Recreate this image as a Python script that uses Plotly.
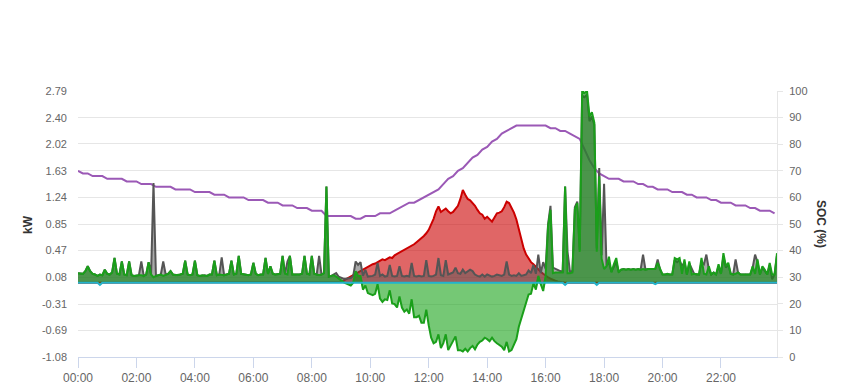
import plotly.graph_objects as go
import pandas as pd
import numpy as np

# ---------------- data ----------------
# 5-minute samples, 00:00 .. 23:55 (one row = one hour)
time_5min = pd.date_range("2024-01-01 00:00", periods=288, freq="5min")
# 10-minute samples for SOC
time_10min = pd.date_range("2024-01-01 00:00", periods=144, freq="10min")

solar_kw = [
    0, 0, 0, 0, 0, 0, 0, 0, 0, 0, 0, 0,
    0, 0, 0, 0, 0, 0, 0, 0, 0, 0, 0, 0,
    0, 0, 0, 0, 0, 0, 0, 0, 0, 0, 0, 0,
    0, 0, 0, 0, 0, 0, 0, 0, 0, 0, 0, 0,
    0, 0, 0, 0, 0, 0, 0, 0, 0, 0, 0, 0,
    0, 0, 0, 0, 0, 0, 0, 0, 0, 0, 0, 0,
    0, 0, 0, 0, 0, 0, 0, 0, 0, 0, 0, 0,
    0, 0, 0, 0, 0, 0, 0, 0, 0, 0, 0, 0,
    0, 0, 0, 0, 0, 0, 0, 0, 0, 0, 0, 0,
    0.01, 0.03, 0.05, 0.07, 0.09, 0.11, 0.13, 0.16, 0.18, 0.20, 0.22, 0.24,
    0.25, 0.27, 0.28, 0.30, 0.32, 0.34, 0.33, 0.35, 0.37, 0.36, 0.40, 0.42,
    0.44, 0.46, 0.48, 0.49, 0.51, 0.53, 0.56, 0.59, 0.62, 0.64, 0.68, 0.72,
    0.77, 0.85, 0.93, 1.04, 1.11, 1.03, 1.05, 1.08, 1.04, 1.01, 1.03, 1.07,
    1.12, 1.22, 1.35, 1.28, 1.22, 1.20, 1.16, 1.12, 1.06, 1.01, 0.99, 0.93,
    0.96, 0.92, 0.89, 0.95, 1.01, 1.02, 1.04, 1.10, 1.18, 1.16, 1.10, 1.02,
    0.92, 0.78, 0.62, 0.50, 0.41, 0.35, 0.30, 0.27, 0.23, 0.19, 0.16, 0.13,
    0.10, 0.08, 0.06, 0.04, 0.03, 0.02, 0.01, 0, 0, 0, 0, 0,
    0, 0, 0, 0, 0, 0, 0, 0, 0, 0, 0, 0,
    0, 0, 0, 0, 0, 0, 0, 0, 0, 0, 0, 0,
    0, 0, 0, 0, 0, 0, 0, 0, 0, 0, 0, 0,
    0, 0, 0, 0, 0, 0, 0, 0, 0, 0, 0, 0,
    0, 0, 0, 0, 0, 0, 0, 0, 0, 0, 0, 0,
    0, 0, 0, 0, 0, 0, 0, 0, 0, 0, 0, 0,
    0, 0, 0, 0, 0, 0, 0, 0, 0, 0, 0, 0,
]

load_kw = [
    0.14, 0.14, 0.13, 0.17, 0.24, 0.17, 0.13, 0.12, 0.10, 0.12, 0.11, 0.19,
    0.13, 0.12, 0.15, 0.36, 0.13, 0.12, 0.31, 0.12, 0.11, 0.31, 0.11, 0.10,
    0.11, 0.11, 0.31, 0.10, 0.12, 0.30, 0.12, 1.45, 0.10, 0.11, 0.12, 0.31,
    0.12, 0.13, 0.17, 0.12, 0.11, 0.11, 0.12, 0.13, 0.32, 0.12, 0.11, 0.12,
    0.32, 0.11, 0.10, 0.11, 0.11, 0.10, 0.12, 0.12, 0.32, 0.11, 0.12, 0.37,
    0.11, 0.12, 0.13, 0.32, 0.12, 0.13, 0.39, 0.13, 0.12, 0.11, 0.11, 0.12,
    0.29, 0.13, 0.11, 0.12, 0.12, 0.36, 0.13, 0.24, 0.13, 0.12, 0.12, 0.13,
    0.39, 0.13, 0.31, 0.39, 0.12, 0.12, 0.11, 0.12, 0.13, 0.39, 0.13, 0.12,
    0.39, 0.13, 0.12, 0.39, 0.12, 0.14, 1.40, 0.09, 0.10, 0.12, 0.14, 0.09,
    0.07, 0.06, 0.06, 0.06, 0.07, 0.10, 0.31, 0.26, 0.30, 0.10, 0.19, 0.09,
    0.09, 0.10, 0.12, 0.29, 0.10, 0.12, 0.09, 0.10, 0.26, 0.10, 0.09, 0.10,
    0.24, 0.10, 0.09, 0.10, 0.09, 0.29, 0.10, 0.09, 0.10, 0.09, 0.10, 0.33,
    0.10, 0.09, 0.10, 0.12, 0.36, 0.11, 0.10, 0.33, 0.12, 0.14, 0.15, 0.22,
    0.14, 0.13, 0.19, 0.14, 0.17, 0.19, 0.17, 0.12, 0.10, 0.09, 0.12, 0.09,
    0.12, 0.10, 0.09, 0.10, 0.12, 0.11, 0.10, 0.12, 0.31, 0.12, 0.10, 0.11,
    0.10, 0.14, 0.10, 0.11, 0.12, 0.18, 0.14, 0.26, 0.13, 0.41, 0.14, 0.30,
    0.20, 0.85, 1.12, 0.22, 0.20, 0.18, 0.17, 0.16, 1.40, 0.45, 0.16, 0.17,
    1.10, 1.18, 0.48, 2.72, 2.70, 2.74, 2.35, 2.42, 2.30, 0.50, 1.67, 0.40,
    1.44, 0.25, 0.30, 0.16, 0.22, 0.30, 0.16, 0.19, 0.20, 0.19, 0.20, 0.19,
    0.20, 0.19, 0.20, 0.19, 0.41, 0.19, 0.20, 0.20, 0.19, 0.20, 0.34, 0.19,
    0.12, 0.12, 0.13, 0.12, 0.12, 0.33, 0.30, 0.33, 0.24, 0.30, 0.12, 0.28,
    0.19, 0.13, 0.12, 0.12, 0.30, 0.27, 0.41, 0.20, 0.12, 0.15, 0.12, 0.24,
    0.13, 0.38, 0.22, 0.26, 0.13, 0.12, 0.34, 0.15, 0.12, 0.12, 0.13, 0.12,
    0.12, 0.22, 0.41, 0.30, 0.12, 0.22, 0.17, 0.12, 0.26, 0.05, 0.12, 0.40,
]

battery_kw = [
    0.14, 0.14, 0.13, 0.17, 0.24, 0.17, 0.13, 0.12, 0.10, 0.12, 0.11, 0.19,
    0.13, 0.12, 0.15, 0.36, 0.13, 0.12, 0.31, 0.12, 0.11, 0.31, 0.11, 0.10,
    0.11, 0.11, 0.11, 0.10, 0.12, 0.30, 0.12, 0.08, 0.10, 0.11, 0.12, 0.10,
    0.12, 0.13, 0.17, 0.12, 0.11, 0.11, 0.12, 0.13, 0.32, 0.12, 0.11, 0.12,
    0.32, 0.11, 0.10, 0.11, 0.11, 0.10, 0.12, 0.12, 0.32, 0.11, 0.12, 0.11,
    0.11, 0.12, 0.13, 0.32, 0.12, 0.13, 0.39, 0.13, 0.12, 0.11, 0.11, 0.12,
    0.29, 0.13, 0.11, 0.12, 0.12, 0.36, 0.13, 0.24, 0.13, 0.12, 0.12, 0.13,
    0.39, 0.13, 0.12, 0.39, 0.12, 0.12, 0.11, 0.12, 0.13, 0.39, 0.13, 0.12,
    0.39, 0.13, 0.12, 0.11, 0.12, 0.14, 1.40, 0.09, 0.10, 0.11, 0.09, 0.06,
    0.03, 0.01, -0.01, -0.02, -0.04, 0.00, 0.17, 0.10, 0.10, -0.10, -0.04, -0.15,
    -0.16, -0.18, -0.16, -0.02, -0.23, -0.28, -0.24, -0.25, -0.11, -0.30, -0.31, -0.36,
    -0.20, -0.36, -0.42, -0.39, -0.45, -0.24, -0.50, -0.50, -0.48, -0.58, -0.58, -0.39,
    -0.62, -0.80, -0.88, -0.86, -0.75, -0.95, -0.88, -0.75, -0.98, -0.92, -0.84, -0.78,
    -0.98, -0.98, -1.00, -0.96, -1.00, -0.95, -0.92, -0.97, -0.90, -0.86, -0.84, -0.80,
    -0.82, -0.85, -0.80, -0.85, -0.88, -0.91, -0.93, -0.98, -0.86, -1.00, -0.98, -0.90,
    -0.82, -0.64, -0.52, -0.40, -0.30, -0.17, -0.16, -0.01, -0.10, 0.10, -0.02, -0.12,
    0.10, 0.82, 1.06, 0.14, 0.15, 0.15, 0.16, 0.15, 1.40, 0.14, 0.14, 0.15,
    1.07, 1.16, 0.45, 2.79, 2.76, 2.79, 2.42, 2.48, 2.33, 0.45, 1.55, 0.35,
    0.20, 0.24, 0.38, 0.15, 0.27, 0.36, 0.15, 0.19, 0.20, 0.19, 0.20, 0.19,
    0.20, 0.19, 0.20, 0.19, 0.20, 0.19, 0.20, 0.20, 0.19, 0.20, 0.29, 0.19,
    0.12, 0.12, 0.13, 0.12, 0.12, 0.36, 0.34, 0.36, 0.13, 0.34, 0.12, 0.31,
    0.12, 0.13, 0.12, 0.12, 0.36, 0.13, 0.12, 0.24, 0.12, 0.15, 0.12, 0.27,
    0.13, 0.43, 0.24, 0.29, 0.13, 0.12, 0.13, 0.15, 0.12, 0.12, 0.13, 0.12,
    0.12, 0.24, 0.13, 0.34, 0.12, 0.24, 0.19, 0.12, 0.29, 0.12, 0.12, 0.43,
]

grid_kw = [
    0, 0, 0, 0, 0, 0, 0, 0, 0, -0.03, 0, 0,
    0, 0, 0, 0, 0, 0, 0, 0, 0, 0, 0, 0,
    0, 0, 0, 0, 0, 0, 0, 0, 0, 0, 0, 0,
    0, 0, 0, 0, 0, 0, 0, 0, 0, 0, 0, 0,
    0, 0, 0, 0, 0, 0, 0, 0, 0, 0, 0, 0,
    0, 0, 0, 0, 0, 0, 0, 0, 0, 0, 0, 0,
    0, 0, 0, 0, 0, 0, 0, 0, 0, 0, 0, 0,
    0, 0, 0, 0, 0, 0, 0, 0, 0, 0, 0, 0,
    0, 0, 0, 0, 0, 0, 0, 0, 0, 0, 0, 0,
    0, 0, 0, 0, 0, 0, 0, 0, 0, 0, 0, 0,
    0, 0, 0, 0, 0, 0, 0, 0, 0, 0, 0, 0,
    0, 0, 0, 0, 0, 0, 0, 0, 0, 0, 0, 0,
    0, 0, 0, 0, 0, 0, 0, 0, 0, 0, 0, 0,
    0, 0, 0, 0, 0, 0, 0, 0, 0, 0, 0, 0,
    0, 0, 0, 0, 0, 0, 0, 0, 0, 0, 0, 0,
    0, 0, 0, 0, 0, 0, 0, 0, 0, 0, 0, 0,
    0, 0, 0, 0, 0, 0, 0, 0, -0.03, 0, 0, 0,
    0, 0, 0, 0, 0, 0, 0, 0, 0, -0.03, 0, 0,
    0, 0, 0, 0, 0, 0, 0, 0, 0, 0, 0, 0,
    0, 0, 0, 0, 0, 0, 0, 0, 0, -0.02, 0, 0,
    0, 0, 0, 0, 0, 0, 0, 0, 0, 0, 0, 0,
    0, 0, 0, 0, 0, 0, 0, 0, 0, 0, 0, 0,
    0, 0, 0, 0, 0, 0, 0, 0, 0, 0, 0, 0,
    0, 0, 0, 0, 0, 0, 0, 0, 0, 0, 0, 0,
]

soc_pct = [
    70, 69, 69, 68, 68, 68, 67, 67, 67, 67,
    66, 66, 66, 65, 65, 65, 64, 64, 64, 64,
    63, 63, 63, 63, 62, 62, 62, 62, 61, 61,
    61, 60, 60, 60, 60, 59, 59, 59, 59, 58,
    58, 58, 57, 57, 57, 56, 56, 56, 55, 55,
    55, 53, 53, 53, 53, 53, 53, 52, 52, 53,
    53, 53, 54, 54, 54, 55, 56, 57, 58, 58,
    59, 60, 61, 62, 63, 65, 67, 68, 70, 71,
    73, 75, 76, 78, 79, 81, 82, 84, 85, 86,
    87, 87, 87, 87, 87, 87, 87, 86, 86, 85,
    85, 84, 83, 82, 78, 74, 71, 69, 68, 67,
    67, 67, 66, 66, 66, 65, 65, 64, 64, 63,
    63, 63, 62, 62, 62, 61, 61, 60, 60, 60,
    59, 59, 58, 58, 58, 57, 57, 57, 56, 56,
    55, 55, 55, 54,
]

kw_ticks = [-1.08, -0.69, -0.31, 0.08, 0.47, 0.85, 1.24, 1.63, 2.02, 2.40, 2.79]
soc_ticks = [0, 10, 20, 30, 40, 50, 60, 70, 80, 90, 100]

assert len(solar_kw) == 288 and len(load_kw) == 288
assert len(battery_kw) == 288 and len(grid_kw) == 288
assert len(soc_pct) == 144

# ---------------- figure ----------------
bat = np.array(battery_kw)
bat_pos = np.maximum(bat, 0)
bat_neg = np.minimum(bat, 0)

FONT = "Liberation Sans, Arial, sans-serif"
fig = go.Figure()

# SOC on primary (right) axis so it sits beneath the kW areas
fig.add_trace(go.Scatter(x=time_10min, y=soc_pct, mode="lines", yaxis="y",
                         line=dict(color="#9b59b6", width=2), name="SOC"))

fig.add_trace(go.Scatter(x=time_5min, y=solar_kw, mode="lines", yaxis="y2",
                         fill="tozeroy", fillcolor="rgba(204,0,0,0.6)",
                         line=dict(color="#cc0000", width=2), name="Solar"))
fig.add_trace(go.Scatter(x=time_5min, y=load_kw, mode="lines", yaxis="y2",
                         fill="tozeroy", fillcolor="rgba(85,85,85,0.5)",
                         line=dict(color="#555555", width=2), name="Load"))
fig.add_trace(go.Scatter(x=time_5min, y=bat_pos, mode="none", yaxis="y2",
                         fill="tozeroy", fillcolor="rgba(25,139,25,0.65)",
                         name="Battery+"))
fig.add_trace(go.Scatter(x=time_5min, y=bat_neg, mode="none", yaxis="y2",
                         fill="tozeroy", fillcolor="rgba(25,163,25,0.6)",
                         name="Battery-"))
fig.add_trace(go.Scatter(x=time_5min, y=battery_kw, mode="lines", yaxis="y2",
                         line=dict(color="#1a9f1a", width=2), name="Battery"))
fig.add_trace(go.Scatter(x=time_5min, y=grid_kw, mode="lines", yaxis="y2",
                         line=dict(color="#22b4cc", width=2), name="Grid"))

tickfont_y = dict(family=FONT, size=11, color="#666666")
fig.update_layout(
    width=849, height=390,
    margin=dict(l=78, r=72, t=91, b=33),
    paper_bgcolor="white", plot_bgcolor="white",
    showlegend=False,
    xaxis=dict(
        type="date", automargin=False,
        range=[time_5min[0], time_5min[-1]],
        tickformat="%H:%M", dtick=2 * 3600 * 1000,
        tick0="2024-01-01 00:00",
        ticks="outside", ticklen=10, tickcolor="#ccd6eb",
        showline=True, linecolor="#ccd6eb", linewidth=1,
        showgrid=False, zeroline=False,
        tickfont=dict(family=FONT, size=12, color="#666666"),
    ),
    yaxis=dict(
        side="right", range=[0, 100], tickvals=soc_ticks, automargin=False,
        showgrid=False, zeroline=False,
        showline=True, linecolor="#e6e6e6",
        ticks="outside", ticklen=5, tickcolor="#e6e6e6",
        tickfont=tickfont_y, ticklabelstandoff=4,
    ),
    yaxis2=dict(
        overlaying="y", side="left", range=[-1.08, 2.79], automargin=False,
        tickvals=kw_ticks, ticktext=["%.2f" % v for v in kw_ticks],
        showgrid=True, gridcolor="#e6e6e6", zeroline=False,
        tickfont=tickfont_y, ticklabelstandoff=10,
    ),
    annotations=[
        dict(text="<b>kW</b>", xref="paper", yref="paper",
             x=(28 - 78) / 699, y=0.5, xanchor="center", yanchor="middle",
             showarrow=False, textangle=-90,
             font=dict(family=FONT, size=12, color="#333333")),
        dict(text="<b>SOC (%)</b>", xref="paper", yref="paper",
             x=(821 - 78) / 699, y=0.5, xanchor="center", yanchor="middle",
             showarrow=False, textangle=90,
             font=dict(family=FONT, size=12, color="#333333")),
    ],
)

fig.write_html("out.html")
